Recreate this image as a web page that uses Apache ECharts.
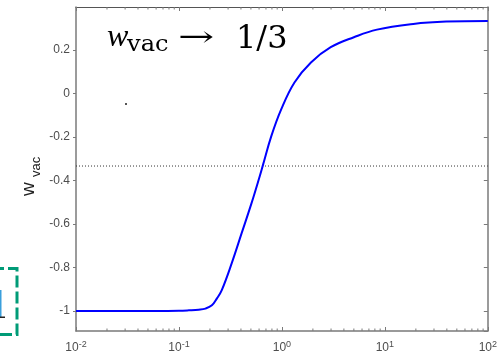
<!DOCTYPE html>
<html>
<head>
<meta charset="utf-8">
<script src="https://cdn.jsdelivr.net/npm/echarts@6/dist/echarts.min.js"></script>
<style>html,body{margin:0;padding:0;background:#fff;}#c{width:500px;height:355px;}</style>
</head>
<body>
<div id="c"></div>
<script>
// ---- data ----
const xValues = [0.01, 0.03, 0.06, 0.1, 0.125, 0.1556, 0.1807, 0.2089, 0.2333, 0.2606, 0.3251, 0.4064, 0.5070, 0.6109, 0.6561, 0.7889, 0.9840, 1.324, 1.914, 2.979, 5.00, 8.375, 18.88, 39.45, 100];
const wValues = [-1, -1, -1, -0.999, -0.997, -0.994, -0.989, -0.974, -0.943, -0.904, -0.781, -0.642, -0.504, -0.378, -0.327, -0.196, -0.073, 0.051, 0.143, 0.213, 0.259, 0.294, 0.320, 0.331, 0.334];
const refLevel = -1/3;
const xRange = [0.01, 100];
const yRange = [-1.092, 0.398];
const yTickStep = 0.2;
const minorTicks = [];
[0.01, 0.1, 1, 10].forEach(d => { for (let k = 2; k <= 9; k++) minorTicks.push(+(d * k).toPrecision(3)); });

const axisGray = '#7a7a7a';
const labelGray = '#4d4d4d';

const chart = echarts.init(document.getElementById('c'), null, {renderer: 'canvas'});
const curve = xValues.map((x, i) => [x, wValues[i]]);

const yLabelFmt = v => {
  const r = v / yTickStep;
  if (Math.abs(r - Math.round(r)) > 1e-6) return '';
  const q = Math.round(r) * yTickStep;
  return String(+q.toFixed(1));
};

const serif = 'DejaVu Serif';

chart.setOption({
  animation: false,
  grid: {left: 76, right: 8, top: 7, bottom: 24, show: false},
  xAxis: [{
    type: 'log', logBase: 10, min: xRange[0], max: xRange[1], position: 'bottom',
    axisLine: {onZero: false, lineStyle: {color: axisGray, width: 1.5}},
    axisTick: {inside: true, length: 4, lineStyle: {color: axisGray}},
    splitLine: {show: false},
    axisLabel: {
      margin: 9,
      formatter: v => '{b|10}{s|' + Math.round(Math.log10(v)) + '}',
      rich: {
        b: {fontFamily: 'Liberation Sans', fontSize: 12, color: labelGray},
        s: {fontFamily: 'Liberation Sans', fontSize: 9, color: labelGray, padding: [0, 0, 7, 0]}
      }
    }
  }, {
    type: 'log', logBase: 10, min: xRange[0], max: xRange[1], position: 'top',
    axisLine: {onZero: false, lineStyle: {color: '#555', width: 1}},
    axisTick: {inside: true, length: 4, lineStyle: {color: axisGray}},
    axisLabel: {show: false}, splitLine: {show: false}
  }],
  yAxis: [{
    type: 'value', min: yRange[0], max: yRange[1], minInterval: yTickStep, maxInterval: yTickStep,
    position: 'left',
    axisLine: {show: true, onZero: false, lineStyle: {color: axisGray, width: 1.5}},
    axisTick: {show: true, inside: false, length: 3, lineStyle: {color: axisGray}},
    splitLine: {show: false},
    axisLabel: {showMinLabel: false, showMaxLabel: false, margin: 6, fontFamily: 'Liberation Sans', fontSize: 12, color: labelGray, formatter: yLabelFmt}
  }, {
    type: 'value', min: yRange[0], max: yRange[1], minInterval: yTickStep, maxInterval: yTickStep,
    position: 'right',
    axisLine: {show: true, onZero: false, lineStyle: {color: axisGray, width: 1.5}},
    axisTick: {show: true, inside: true, length: 4, lineStyle: {color: axisGray}},
    axisLabel: {show: false}, splitLine: {show: false}
  }],
  series: [{
    type: 'line', xAxisIndex: 0, yAxisIndex: 0,
    data: [[xRange[0], refLevel], [xRange[1], refLevel]],
    symbol: 'none', silent: true,
    lineStyle: {color: '#333', width: 1, type: [1, 2]}
  }, {
    type: 'line', xAxisIndex: 0, yAxisIndex: 0,
    data: curve, symbol: 'none', smooth: 0.4,
    lineStyle: {color: '#0000ff', width: 2}
  }, {
    type: 'custom', xAxisIndex: 0, yAxisIndex: 0,
    data: minorTicks.map(v => [v, 0]), silent: true,
    renderItem: (params, api) => {
      const cs = params.coordSys;
      const px = api.coord([api.value(0), 0])[0];
      const st = {stroke: axisGray, lineWidth: 1};
      return {type: 'group', children: [
        {type: 'line', shape: {x1: px, y1: cs.y + cs.height, x2: px, y2: cs.y + cs.height - 2.5}, style: st},
        {type: 'line', shape: {x1: px, y1: cs.y, x2: px, y2: cs.y + 2.5}, style: st}
      ]};
    }
  }],
  graphic: [
    // annotation  w_vac -> 1/3
    {type: 'text', x: 107, y: 38, style: {text: 'w', font: 'italic 32px "Liberation Serif"', fill: '#000', verticalAlign: 'middle'}},
    {type: 'text', x: 127, y: 45, scaleX: 1.05, style: {text: 'vac', font: '23px "' + serif + '"', fill: '#000', verticalAlign: 'middle'}},
    {type: 'text', x: 178, y: 39, scaleX: 1.55, style: {text: '\u2192', font: '28px "' + serif + '"', fill: '#000', verticalAlign: 'middle'}},
    {type: 'text', x: 236, y: 39.5, style: {text: '1/3', font: '32px "' + serif + '"', fill: '#000', verticalAlign: 'middle'}},
    // y axis name  w_vac (rotated)
    {type: 'text', x: 29, y: 196, rotation: Math.PI / 2, style: {text: 'w', font: '19px "Liberation Sans"', fill: '#222', verticalAlign: 'middle', align: 'left'}},
    {type: 'text', x: 36, y: 177, rotation: Math.PI / 2, style: {text: 'vac', font: '13px "Liberation Sans"', fill: '#222', verticalAlign: 'middle', align: 'left'}},
    // cropped fragment at bottom-left
    {type: 'rect', shape: {x: -40, y: 268.5, width: 57, height: 66}, style: {fill: 'none', stroke: '#009b77', lineWidth: 3, lineDash: [12, 4]}},
    {type: 'rect', shape: {x: 0, y: 290, width: 1.5, height: 27}, style: {fill: '#3a9fdc'}},
    {type: 'rect', shape: {x: 0, y: 316.5, width: 5, height: 1.5}, style: {fill: '#222'}},
    {type: 'rect', shape: {x: 125, y: 103, width: 2, height: 2}, style: {fill: '#555'}}
  ]
});
</script>
</body>
</html>
